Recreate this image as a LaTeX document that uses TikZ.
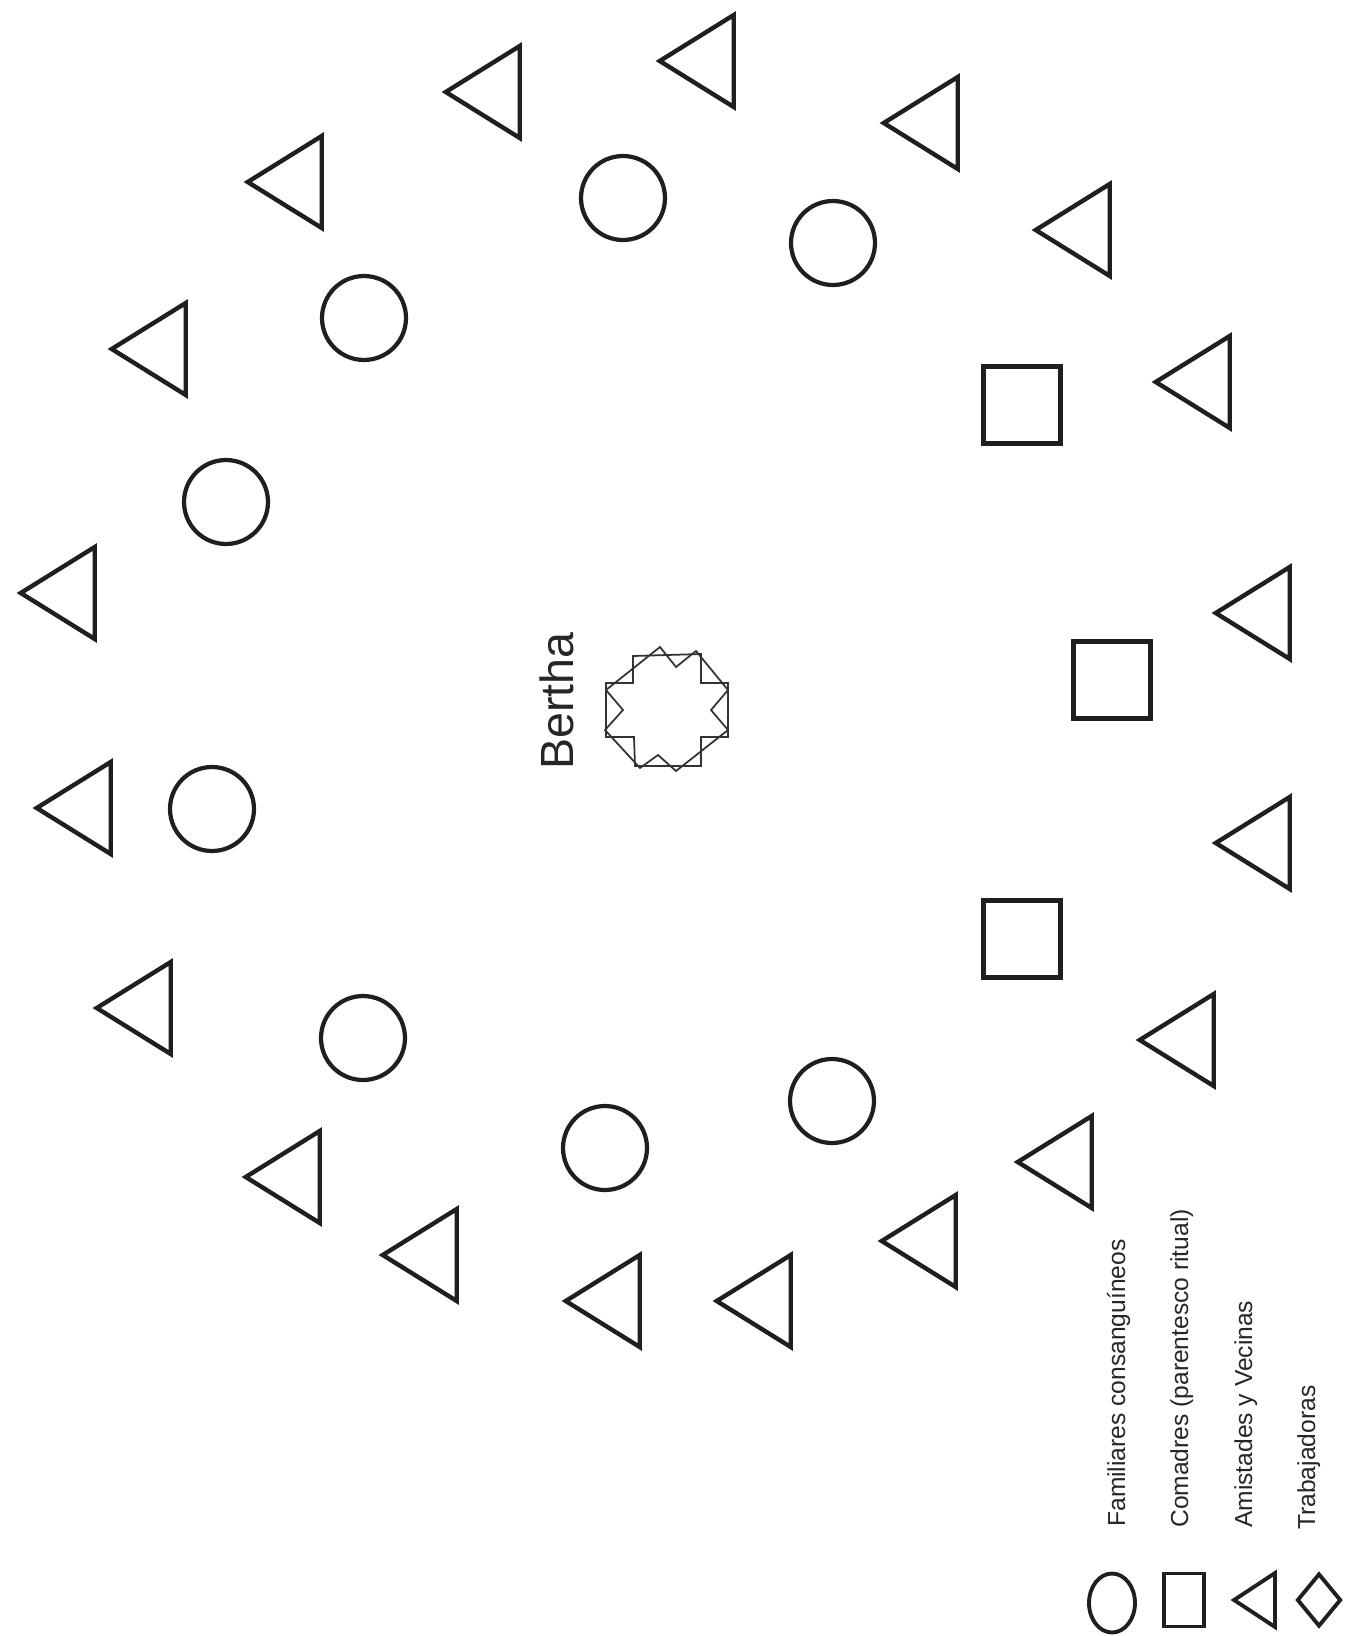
\documentclass[tikz,border=0pt]{standalone}
\usepackage{fontspec}
\setmainfont{Liberation Sans}
\usetikzlibrary{shapes.geometric}

\begin{document}
\begin{tikzpicture}[x=0.02cm,y=-0.02cm,
  familiar/.style={draw=black!88,line width=2.4pt,circle,inner sep=0pt,minimum size=1.68cm},
  comadre/.style={draw=black!88,line width=3.1pt,rectangle,inner sep=0pt,minimum size=1.54cm},
  amiga/.style={draw=black!88,line width=2.5pt,isosceles triangle,isosceles triangle stretches,
    shape border rotate=180,inner sep=0pt,minimum width=1.84cm,minimum height=1.48cm,anchor=apex},
  leyenda/.style={draw=black!88,line width=2.2pt,inner sep=0pt},
  etiqueta/.style={rotate=90,anchor=base west,inner sep=0pt,font=\fontsize{14}{16}\selectfont,text=black!85}]
  \useasboundingbox[fill=white] (0,0) rectangle (1345,1636);

  \node[familiar] (fam1) at (623,198) {};
  \node[familiar] (fam2) at (833,243) {};
  \node[familiar] (fam3) at (364,318) {};
  \node[familiar] (fam4) at (226,502) {};
  \node[familiar] (fam5) at (212,809) {};
  \node[familiar] (fam6) at (363,1038) {};
  \node[familiar] (fam7) at (605,1148) {};
  \node[familiar] (fam8) at (832,1101) {};

  \node[comadre] (com1) at (1022,405) {};
  \node[comadre] (com2) at (1112,680) {};
  \node[comadre] (com3) at (1022,939) {};

  \node[amiga] (ami1) at (242,182) {};
  \node[amiga] (ami2) at (440,92) {};
  \node[amiga] (ami3) at (654,61) {};
  \node[amiga] (ami4) at (878,123) {};
  \node[amiga] (ami5) at (1030,230) {};
  \node[amiga] (ami6) at (1150,382) {};
  \node[amiga] (ami7) at (1210,613) {};
  \node[amiga] (ami8) at (1210,843) {};
  \node[amiga] (ami9) at (1134,1040) {};
  \node[amiga] (ami10) at (1012,1162) {};
  \node[amiga] (ami11) at (876,1241) {};
  \node[amiga] (ami12) at (711,1301) {};
  \node[amiga] (ami13) at (560,1301) {};
  \node[amiga] (ami14) at (377,1255) {};
  \node[amiga] (ami15) at (240,1177) {};
  \node[amiga] (ami16) at (91,1008) {};
  \node[amiga] (ami17) at (31,808) {};
  \node[amiga] (ami18) at (15,593) {};
  \node[amiga] (ami19) at (106,349) {};

  \draw[black!80,line width=1pt] (606,683) -- (633,683) -- (633,656) -- (701,654) -- (701,683)
    -- (728,683) -- (728,737) -- (701,737) -- (701,766) -- (635,766) -- (634,737) -- (606,737) -- cycle;
  \draw[black!80,line width=1pt] (606,690) -- (660,647) -- (676,667) -- (696,651) -- (728,690)
    -- (711,710) -- (728,730) -- (676,771) -- (658,755) -- (640,768) -- (605,730) -- (623,710) -- cycle;
  \node[rotate=90,anchor=base west,inner sep=0pt,font=\fontsize{26.5}{30}\selectfont,text=black!85]
    (bertha) at (573,770) {Bertha};

  \node[leyenda,ellipse,minimum width=0.92cm,minimum height=1.18cm] (leyfam) at (1112,1603) {};
  \node[leyenda,rectangle,minimum width=0.8cm,minimum height=1.06cm] (leycom) at (1184,1600) {};
  \node[leyenda,isosceles triangle,isosceles triangle stretches,shape border rotate=180,
    minimum width=1.08cm,minimum height=0.82cm,anchor=apex] (leyami) at (1229,1600) {};
  \node[leyenda,diamond,minimum width=0.88cm,minimum height=1.06cm] (leytrab) at (1319,1600) {};

  \node[etiqueta] (txtfam) at (1125,1527) {Familiares consanguíneos};
  \node[etiqueta] (txtcom) at (1188,1528) {Comadres (parentesco ritual)};
  \node[etiqueta] (txtami) at (1252,1528) {Amistades y Vecinas};
  \node[etiqueta] (txttrab) at (1315,1530) {Trabajadoras};
\end{tikzpicture}
\end{document}
